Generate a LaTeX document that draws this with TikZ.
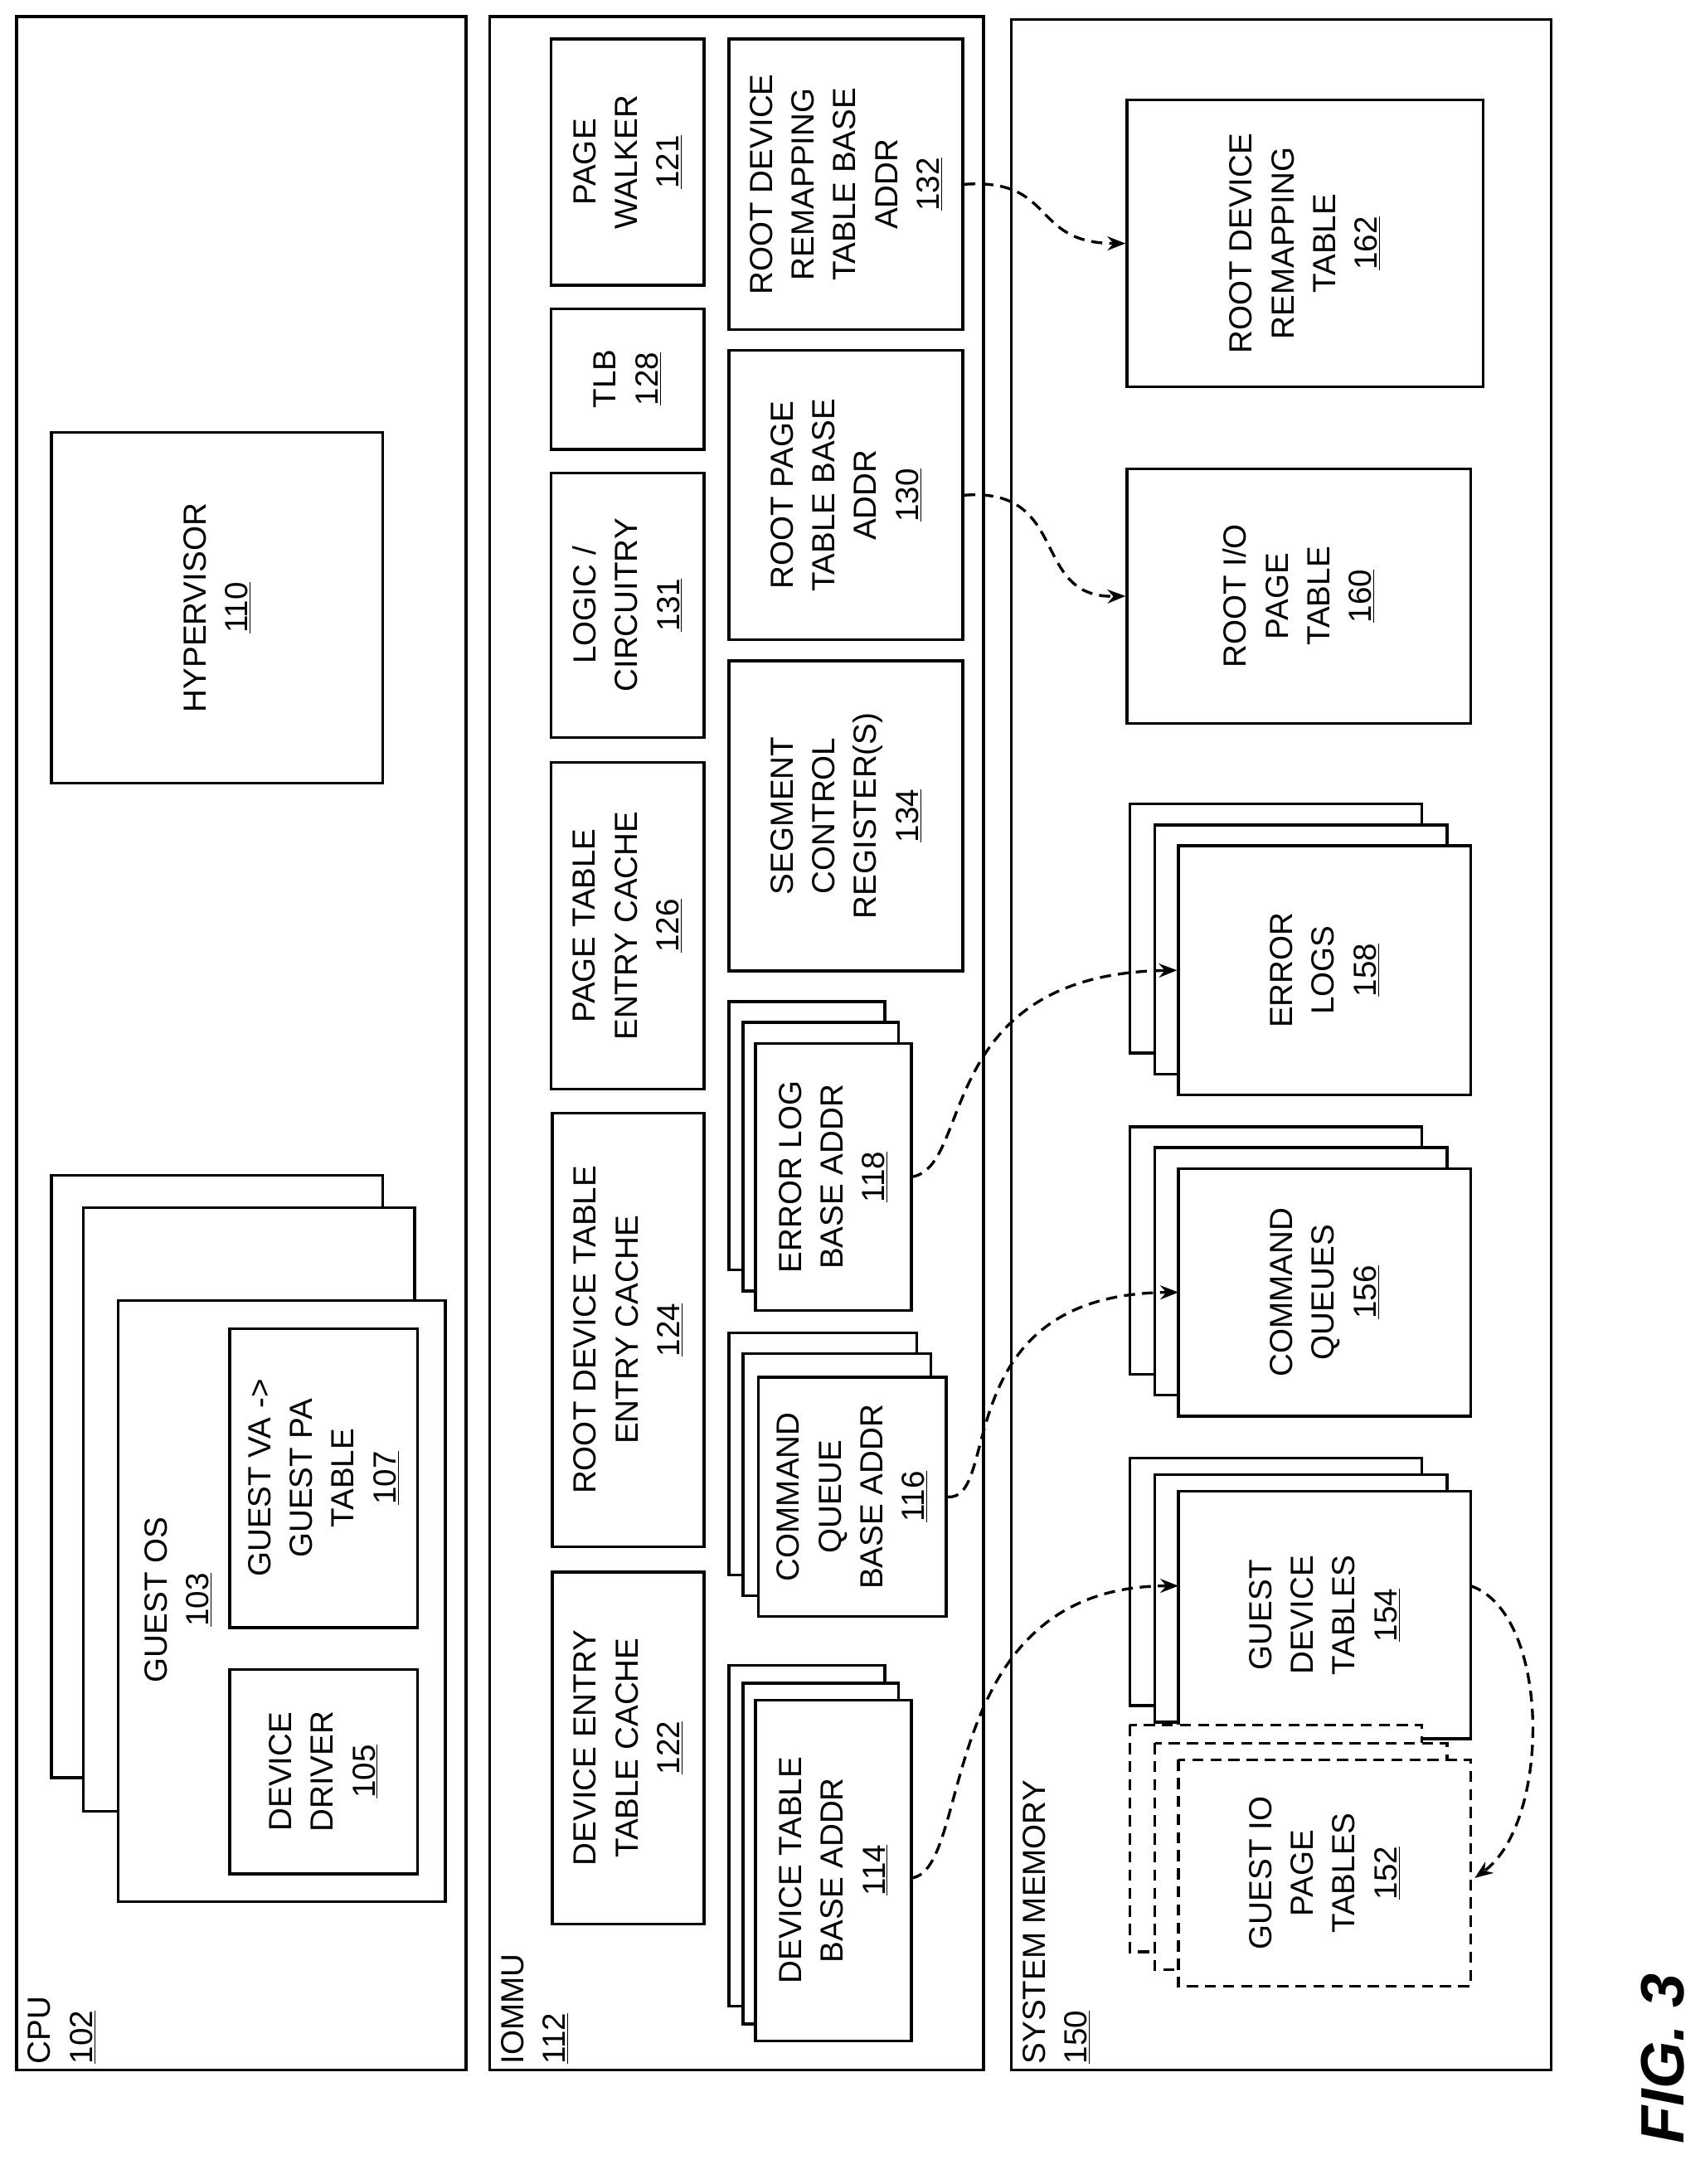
\documentclass[tikz,border=0pt]{standalone}
\usepackage{fontspec}
\setmainfont{Liberation Sans}
\usetikzlibrary{arrows.meta}
\newcommand\bx[6][]{\node[box,#1,minimum width={(#5-#3)*1pt},minimum height={(#4-#2)*1pt}] (#2) at ({(#3+#5)/2},{(#4+#6)/2}) {};}
\newcommand\bb[7][]{\node[box,#1,minimum width={(#6-#4)*1pt},minimum height={(#5-#3)*1pt}] (#2) at ({(#3+#5)/2},{(#4+#6)/2}) {#7};}
\begin{document}
\begin{tikzpicture}[x=1pt,y=-1pt,
  box/.style={draw,line width=2pt,fill=white,rotate=90,inner sep=2pt,align=center,font=\fontsize{23}{30}\selectfont},
  lab/.style={rotate=90,anchor=north west,align=left,inner sep=0pt,font=\fontsize{23}{30}\selectfont},
  arr/.style={line width=2pt,dash pattern=on 8pt off 5pt,-{Stealth[length=13pt,width=10pt]}},
  ds/.style={dash pattern=on 8pt off 5pt}]
\useasboundingbox (0,0) rectangle (1225,1570);
% outer
\bb{cpu}{12}{12}{335}{1488}{}
\bb{iommu}{352}{12}{707}{1488}{}
\bb{sysmem}{727}{14}{1115}{1488}{}
\node[lab] (lcpu) at (20,1484) {CPU\\\underline{102}};
\node[lab] (liommu) at (360,1484) {IOMMU\\\underline{112}};
\node[lab] (lsys) at (735,1484) {SYSTEM MEMORY\\\underline{150}};
% CPU
\bb{hv}{37}{311}{275}{563}{HYPERVISOR\\\underline{110}}
\bb{os1}{37}{845}{275}{1278}{}
\bb{os2}{60}{868}{298}{1302}{}
\bb{os3}{85}{935}{320}{1367}{}
\node[rotate=90,align=center,font=\fontsize{23}{30}\selectfont] (gos) at (128,1150) {GUEST OS\\\underline{103}};
\bb{dd}{165}{1200}{300}{1347}{DEVICE\\DRIVER\\\underline{105}}
\bb{gva}{165}{955}{300}{1170}{GUEST VA -\textgreater\\GUEST PA\\TABLE\\\underline{107}}
% IOMMU
\bb{pw}{396}{28}{506}{205}{PAGE\\WALKER\\\underline{121}}
\bb{tlb}{396}{222}{506}{323}{TLB\\\underline{128}}
\bb{lc}{396}{340}{506}{530}{LOGIC /\\CIRCUITRY\\\underline{131}}
\bb{ptc}{396}{548}{506}{783}{PAGE TABLE\\ENTRY CACHE\\\underline{126}}
\bb{rdc}{397}{800}{506}{1112}{ROOT DEVICE TABLE\\ENTRY CACHE\\\underline{124}}
\bb{dtc}{397}{1130}{506}{1383}{DEVICE ENTRY\\TABLE CACHE\\\underline{122}}
\bb{r132}{524}{28}{692}{237}{ROOT DEVICE\\REMAPPING\\TABLE BASE\\ADDR\\\underline{132}}
\bb{r130}{524}{252}{692}{460}{ROOT PAGE\\TABLE BASE\\ADDR\\\underline{130}}
\bb{s134}{524}{475}{692}{698}{SEGMENT\\CONTROL\\REGISTER(S)\\\underline{134}}
\bb{e1}{524}{720}{636}{913}{}
\bb{e2}{534}{735}{646}{928}{}
\bb{e118}{543}{750}{655}{942}{ERROR LOG\\BASE ADDR\\\underline{118}}
\bb{c1}{524}{958}{659}{1132}{}
\bb{c2}{534}{973}{669}{1147}{}
\bb{c116}{545}{990}{680}{1162}{COMMAND\\QUEUE\\BASE ADDR\\\underline{116}}
\bb{d1}{524}{1197}{636}{1442}{}
\bb{d2}{534}{1210}{646}{1455}{}
\bb{d114}{543}{1222}{655}{1467}{DEVICE TABLE\\BASE ADDR\\\underline{114}}
% System memory
\bb{r162}{810}{72}{1066}{278}{ROOT DEVICE\\REMAPPING\\TABLE\\\underline{162}}
\bb{r160}{810}{337}{1057}{520}{ROOT I/O\\PAGE\\TABLE\\\underline{160}}
\bb{el1}{812}{578}{1022}{757}{}
\bb{el2}{830}{593}{1040}{772}{}
\bb{el158}{847}{608}{1057}{787}{ERROR\\LOGS\\\underline{158}}
\bb{cq1}{812}{810}{1022}{988}{}
\bb{cq2}{830}{825}{1040}{1003}{}
\bb{cq156}{847}{840}{1057}{1018}{COMMAND\\QUEUES\\\underline{156}}
\bb{gd1}{812}{1048}{1022}{1226}{}
\bb{gd2}{830}{1060}{1040}{1238}{}
\bb{gd154}{847}{1072}{1057}{1250}{GUEST\\DEVICE\\TABLES\\\underline{154}}
\bb[ds]{gp1}{812}{1240}{1022}{1403}{}
\bb[ds]{gp2}{830}{1253}{1040}{1416}{}
\bb[ds]{gp152}{847}{1265}{1057}{1428}{GUEST IO\\PAGE\\TABLES\\\underline{152}}
\coordinate (t154) at (847,1140);
\coordinate (t156) at (847,929);
\coordinate (t152) at (1060,1350);
% arrows
\draw[arr] (r132.south) .. controls (760,128) and (740,175) .. (r162.north);
\draw[arr] (r130.south) .. controls (770,350) and (740,430) .. (r160.north);
\draw[arr] (655,846) .. controls (700,840) and (670,700) .. (el158.north);
\draw[arr] (c116.south) .. controls (720,1080) and (680,930) .. (t156);
\draw[arr] (655,1350) .. controls (700,1345) and (670,1140) .. (t154);
\draw[arr] (1057,1140) .. controls (1115,1160) and (1115,1310) .. (t152);
\node[rotate=90,font=\bfseries\itshape\fontsize{44}{50}\selectfont] (fig) at (1195,1480) {FIG. 3};
\end{tikzpicture}
\end{document}
